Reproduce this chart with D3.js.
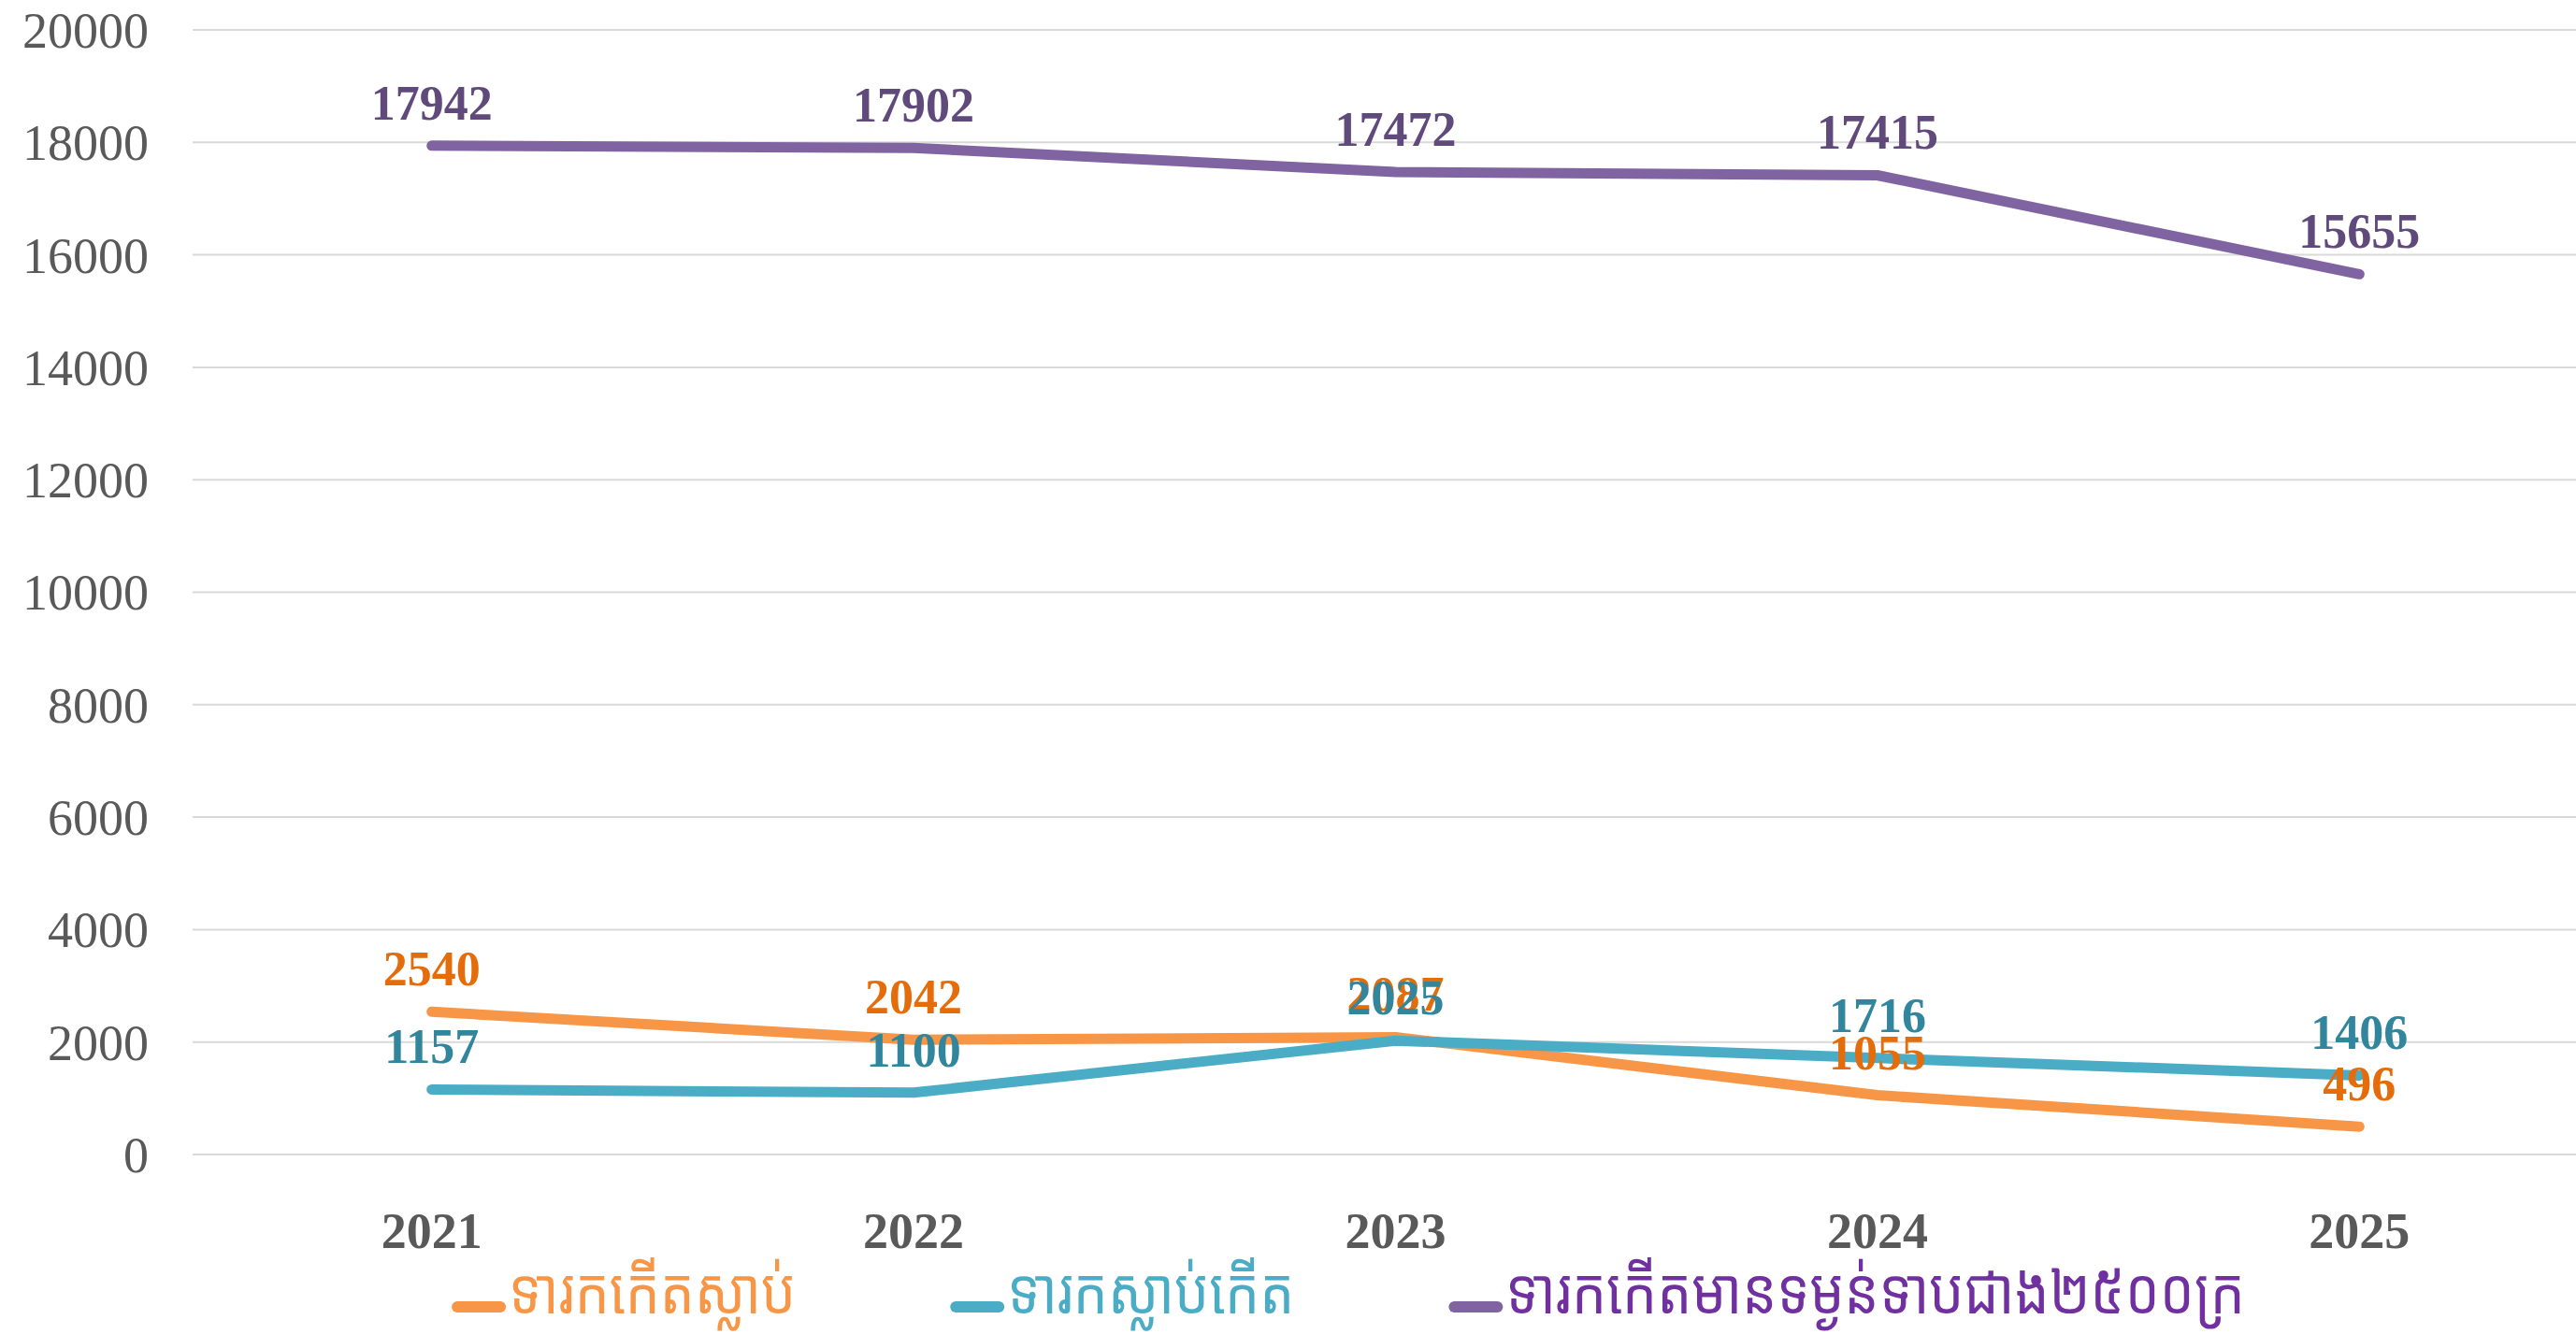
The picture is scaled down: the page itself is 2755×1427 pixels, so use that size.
<!DOCTYPE html>
<html>
<head>
<meta charset="utf-8">
<script src="https://cdn.jsdelivr.net/npm/d3@7"></script>
<style>
  html, body { margin: 0; padding: 0; background: #fff; }
  svg { display: block; }
  .tick-y { font-family: "Liberation Serif", "Times New Roman", serif; font-size: 54px; fill: #595959; }
  .tick-x { font-family: "Liberation Serif", "Times New Roman", serif; font-size: 54px; font-weight: bold; fill: #595959; }
  .value-label { font-family: "Liberation Serif", "Times New Roman", serif; font-size: 52px; font-weight: bold; }
  .legend-text { font-family: "Khmer OS Siemreap", "Noto Sans Khmer", "Khmer OS", "DejaVu Sans", sans-serif; font-size: 68px; }
</style>
</head>
<body>
<div id="chart"></div>
<script>
// Chart data
const years = ['2021', '2022', '2023', '2024', '2025'];
const stillbirths = [2540, 2042, 2087, 1055, 496];
const earlyDeaths = [1157, 1100, 2025, 1716, 1406];
const lowWeight = [17942, 17902, 17472, 17415, 15655];
const yTicks = [0, 2000, 4000, 6000, 8000, 10000, 12000, 14000, 16000, 18000, 20000];

const seriesNames = ['ទារកកើតស្លាប់', 'ទារកស្លាប់កើត', 'ទារកកើតមានទម្ងន់ទាបជាង២៥០០ក្រ'];
const lineColors = ['#F79646', '#4BACC6', '#8064A2'];
const labelColors = ['#E46C0A', '#31859C', '#604A7B'];
const legendColors = ['#F79646', '#4BACC6', '#7030A0'];

const series = [stillbirths, earlyDeaths, lowWeight].map((values, i) => ({
  name: seriesNames[i],
  line: lineColors[i],
  label: labelColors[i],
  legend: legendColors[i],
  values: values.map((v, j) => ({ year: years[j], value: v }))
}));

const W = 2755, H = 1427;
// the category band runs a bit past the right edge of the picture
const plot = { left: 204, right: 2781, top: 32, bottom: 1235 };

const svg = d3.select('#chart').append('svg')
  .attr('width', W)
  .attr('height', H);

const x = d3.scalePoint()
  .domain(years)
  .range([plot.left, plot.right])
  .padding(0.5);

const y = d3.scaleLinear()
  .domain([0, 20000])
  .range([plot.bottom, plot.top]);

// gridlines
svg.append('g')
  .selectAll('line')
  .data(yTicks)
  .enter().append('line')
  .attr('x1', 206)
  .attr('x2', W)
  .attr('y1', d => y(d))
  .attr('y2', d => y(d))
  .attr('stroke', '#d9d9d9')
  .attr('stroke-width', 2);

// y tick labels
svg.append('g')
  .selectAll('text')
  .data(yTicks)
  .enter().append('text')
  .attr('class', 'tick-y')
  .attr('x', 159)
  .attr('y', d => y(d))
  .attr('dy', '0.35em')
  .attr('text-anchor', 'end')
  .text(d => d);

// x tick labels
svg.append('g')
  .selectAll('text')
  .data(years)
  .enter().append('text')
  .attr('class', 'tick-x')
  .attr('x', d => x(d))
  .attr('y', 1335)
  .attr('text-anchor', 'middle')
  .text(d => d);

// lines
const line = d3.line()
  .x(d => x(d.year))
  .y(d => y(d.value));

svg.append('g')
  .selectAll('path')
  .data(series)
  .enter().append('path')
  .attr('d', d => line(d.values))
  .attr('fill', 'none')
  .attr('stroke', d => d.line)
  .attr('stroke-width', 11)
  .attr('stroke-linecap', 'round')
  .attr('stroke-linejoin', 'round');

// value labels
series.forEach(s => {
  svg.append('g')
    .selectAll('text')
    .data(s.values)
    .enter().append('text')
    .attr('class', 'value-label')
    .attr('x', d => x(d.year))
    .attr('y', d => y(d.value) - 28)
    .attr('text-anchor', 'middle')
    .attr('fill', s.label)
    .text(d => d.value);
});

// legend (Khmer text squeezed horizontally like the original narrow font)
const squeeze = 0.86;
const legend = svg.append('g').attr('class', 'legend');
let cursor = 0;
series.forEach(s => {
  const g = legend.append('g');
  g.append('line')
    .attr('x1', 6)
    .attr('x2', 52)
    .attr('y1', 0)
    .attr('y2', 0)
    .attr('stroke', s.line)
    .attr('stroke-width', 12)
    .attr('stroke-linecap', 'round');
  const t = g.append('text')
    .attr('class', 'legend-text')
    .attr('transform', `translate(61,0) scale(${squeeze},1)`)
    .attr('dy', '0.1em')
    .attr('fill', s.legend)
    .text(s.name);
  const w = 61 + t.node().getComputedTextLength() * squeeze;
  g.attr('transform', `translate(${cursor},0)`);
  cursor += w + 165;
});
const legendWidth = cursor - 165;
legend.attr('transform', `translate(${1442 - legendWidth / 2}, 1398)`);
</script>
</body>
</html>
